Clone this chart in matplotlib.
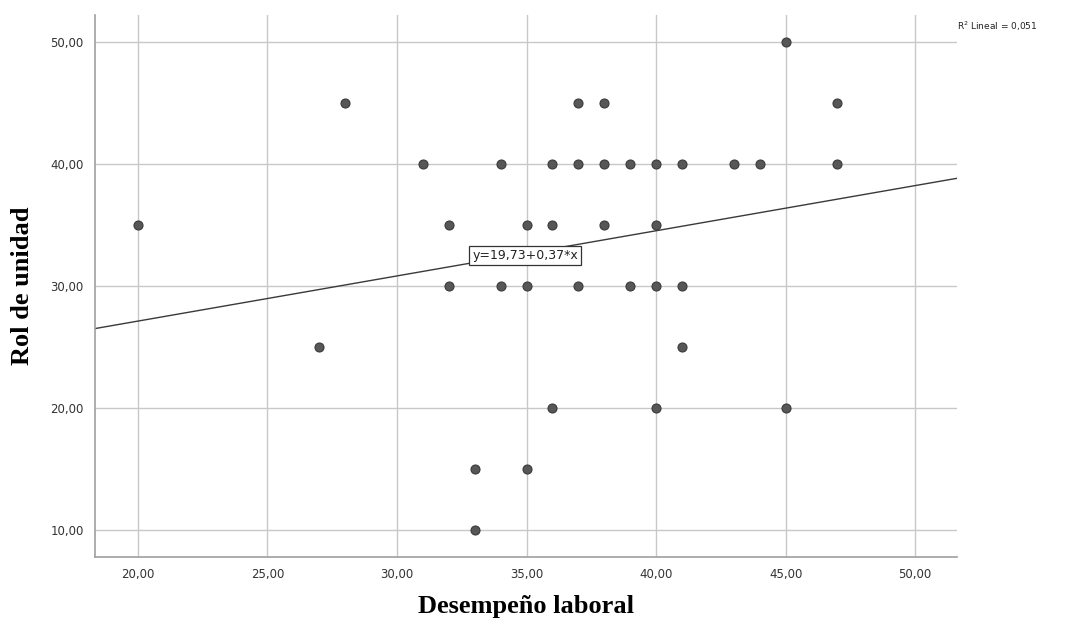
"""Scatter of unit role vs job performance with linear fit."""

import matplotlib.pyplot as plt
from matplotlib.ticker import FuncFormatter

# Desempeño laboral (x) and Rol de unidad (y) per respondent
desempeno = [20, 27, 28, 31, 32, 32, 33, 33, 34, 34, 35, 35, 35, 36, 36, 36,
             37, 37, 37, 38, 38, 38, 39, 39, 40, 40, 40, 40, 41, 41, 41, 43,
             44, 45, 45, 47, 47]
rol_unidad = [35, 25, 45, 40, 35, 30, 15, 10, 40, 30, 35, 30, 15, 40, 35, 20,
              45, 40, 30, 45, 40, 35, 40, 30, 40, 35, 30, 20, 40, 30, 25, 40,
              40, 50, 20, 45, 40]

intercepto = 19.73
pendiente = 0.37
r2 = 0.051

x_ticks = [20, 25, 30, 35, 40, 45, 50]
y_ticks = [10, 20, 30, 40, 50]
x_lim = (18.34, 51.62)
y_lim = (7.8, 52.2)


def coma(v, _pos=None):
    return f"{v:.2f}".replace(".", ",")


fig = plt.figure(figsize=(10.73, 6.28), dpi=100)
ax = fig.add_axes([0.0885, 0.113, 0.8035, 0.863])

ax.set_xlim(*x_lim)
ax.set_ylim(*y_lim)
ax.set_xticks(x_ticks)
ax.set_yticks(y_ticks)
ax.xaxis.set_major_formatter(FuncFormatter(coma))
ax.yaxis.set_major_formatter(FuncFormatter(coma))
ax.grid(True, color="#c8c8c8", linewidth=1.0)
ax.set_axisbelow(True)

for side in ("top", "right"):
    ax.spines[side].set_visible(False)
for side in ("left", "bottom"):
    ax.spines[side].set_color("#a0a0a0")
    ax.spines[side].set_linewidth(1.2)
ax.tick_params(length=0, pad=8, labelsize=8.5, labelcolor="#333333")

ax.scatter(desempeno, rol_unidad, s=42, color="#575757",
           edgecolor="#3a3a3a", linewidth=0.8, zorder=3)

# fitted line across the whole x range
xs = list(x_lim)
ys = [intercepto + pendiente * v for v in xs]
ax.plot(xs, ys, color="#3a3a3a", linewidth=1.0, zorder=2)

ax.text(34.95, 32.5, f"y={coma(intercepto)}+{coma(pendiente)}*x",
        ha="center", va="center", fontsize=9, color="#222222", zorder=4,
        bbox=dict(boxstyle="square,pad=0.25", facecolor="white",
                  edgecolor="#333333", linewidth=0.9))

fig.text(0.892, 0.958, f"R$^2$ Lineal = {r2:.3f}".replace(".", ","),
         fontsize=6.5, color="#222222", ha="left", va="center")

ax.set_xlabel("Desempeño laboral", family="Liberation Serif",
              fontweight="bold", fontsize=19, labelpad=10)
ax.set_ylabel("Rol de unidad", family="Liberation Serif",
              fontweight="bold", fontsize=19, labelpad=12)

fig.savefig("out.png", dpi=100)
